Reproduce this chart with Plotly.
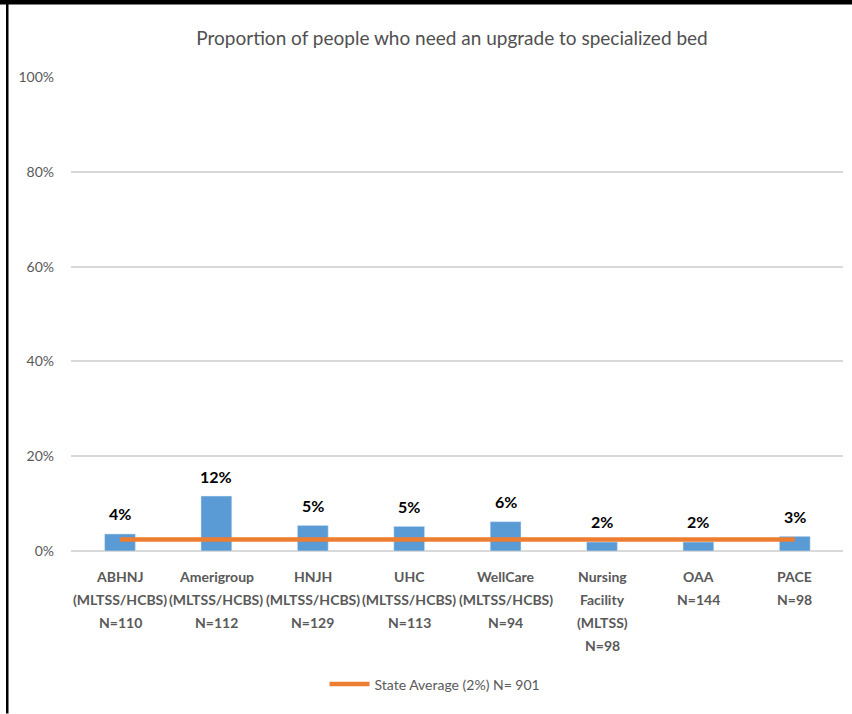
import plotly.graph_objects as go

categories = ["ABHNJ", "Amerigroup", "HNJH", "UHC", "WellCare", "Nursing Facility", "OAA", "PACE"]
tick_lines = [
    ["ABHNJ", "(MLTSS/HCBS)", "N=110"],
    ["Amerigroup", "(MLTSS/HCBS)", "N=112"],
    ["HNJH", "(MLTSS/HCBS)", "N=129"],
    ["UHC", "(MLTSS/HCBS)", "N=113"],
    ["WellCare", "(MLTSS/HCBS)", "N=94"],
    ["Nursing", "Facility", "(MLTSS)", "N=98"],
    ["OAA", "N=144"],
    ["PACE", "N=98"],
]
values = [0.036, 0.116, 0.054, 0.052, 0.062, 0.019, 0.019, 0.031]
value_labels = ["4%", "12%", "5%", "5%", "6%", "2%", "2%", "3%"]
state_avg = [0.024] * len(categories)
state_label = "State Average (2%) N= 901"
title = "Proportion of people who need an upgrade to specialized bed"

FONT = "Lato, sans-serif"
GRAY = "#595959"

fig = go.Figure()
fig.add_trace(go.Bar(x=categories, y=values, marker_color="#5B9BD5", width=0.32,
                     showlegend=False, hoverinfo="skip"))
fig.add_trace(go.Scatter(x=categories, y=state_avg, mode="lines", name=state_label,
                         line=dict(color="#ED7D31", width=4.5)))

annotations = []
for c, v, t in zip(categories, values, value_labels):
    annotations.append(dict(x=c, y=v, xref="x", yref="y", text="<b>" + t + "</b>", showarrow=False,
                            yshift=20, font=dict(family=FONT, size=16, color="#000000"),
                            xanchor="center", yanchor="middle"))
line_h = 23.0 / 474.0
first_y = -(577 - 551.5) / 474.0
for c, lines in zip(categories, tick_lines):
    for i, ln in enumerate(lines):
        annotations.append(dict(x=c, y=first_y - i * line_h, xref="x", yref="paper", text="<b>" + ln + "</b>",
                                showarrow=False, font=dict(family=FONT, size=14, color=GRAY),
                                xanchor="center", yanchor="middle"))

fig.update_layout(
    width=852, height=714,
    margin=dict(l=71, r=9, t=77, b=163),
    paper_bgcolor="white", plot_bgcolor="white",
    title=dict(text=title, x=452 / 852, xanchor="center", y=1 - 38 / 714, yanchor="middle",
               font=dict(family=FONT, size=19, color="#505050")),
    xaxis=dict(showticklabels=False, showgrid=False, showline=False, zeroline=False, ticks=""),
    yaxis=dict(range=[0, 1], tickvals=[0, 0.2, 0.4, 0.6, 0.8, 1.0], tickformat=".0%",
               showgrid=True, gridcolor="#D9D9D9", gridwidth=1.5, zeroline=True,
               zerolinecolor="#D9D9D9", zerolinewidth=2, showline=False,
               ticklabelstandoff=16,
               tickfont=dict(family=FONT, size=14, color=GRAY)),
    legend=dict(orientation="h", x=0.5 - 22 / 772, xanchor="center", y=-(685 - 551.5) / 474.0, yanchor="middle",
                font=dict(family=FONT, size=14, color=GRAY), itemwidth=40),
    annotations=annotations,
    shapes=[
        dict(type="rect", xref="paper", yref="paper", x0=(6 - 71) / 772, x1=(8.5 - 71) / 772,
             y0=(551.5 - 0) / 474, y1=(551.5 - 714) / 474, fillcolor="black", line=dict(width=0)),
        dict(type="rect", xref="paper", yref="paper", x0=(0 - 71) / 772, x1=(852 - 71) / 772,
             y0=(551.5 - 0.5) / 474, y1=(551.5 - 5) / 474, fillcolor="black", line=dict(width=0)),
    ],
)

fig.write_html("out.html", config={"displayModeBar": False},
               post_script="document.body.style.margin='0';")
